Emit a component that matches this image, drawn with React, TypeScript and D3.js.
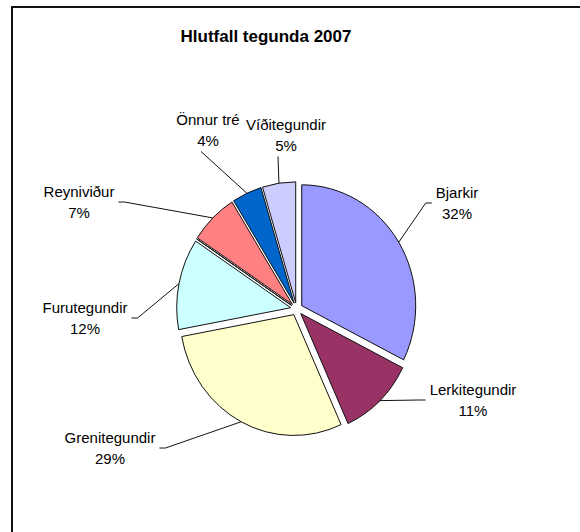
import React from "react";
import * as d3 from "d3";

const width = 580;
const height = 532;

// data
const title = "Hlutfall tegunda 2007";
const categories = [
  "Bjarkir",
  "Lerkitegundir",
  "Grenitegundir",
  "Furutegundir",
  "",
  "Reyniviður",
  "Önnur tré",
  "Víðitegundir",
];
const values = [32.4, 10.8, 28.9, 12.2, 0, 6.8, 4.2, 4.7];
const colors = ["#9999FF", "#993366", "#FFFFCC", "#CCFFFF", "#660066", "#FF8080", "#0066CC", "#CCCCFF"];

// label layout: centre x, first baseline y, which side the leader attaches to
const labelAt = [
  { x: 457, y: 198, side: "left" },
  { x: 473, y: 395, side: "left" },
  { x: 110, y: 443, side: "right" },
  { x: 85, y: 313, side: "right" },
  null,
  { x: 79, y: 197, side: "right" },
  { x: 208, y: 125, side: "bottom", dx: -7 },
  { x: 286, y: 130, side: "bottom", dx: -8 },
];

const cx = 296.6;
const cy = 309;
const r = 114;
const ky = 1.06; // pie is a bit taller than wide
const explode = 6;
const fontSize = 15;
const lineH = 20.5;
const font = "'Liberation Sans', Arial, sans-serif";

const measure = (() => {
  const ctx = document.createElement("canvas").getContext("2d");
  return (s) => {
    if (!ctx) return s.length * fontSize * 0.55;
    ctx.font = `${fontSize}px ${font}`;
    return ctx.measureText(s).width;
  };
})();

export default function App() {
  const total = d3.sum(values);
  const pie = d3.pie<number>().sort(null).value((d) => d);
  const arcs = pie(values);
  const arc = d3.arc<d3.PieArcDatum<number>>().innerRadius(0).outerRadius(r);
  const pct = (v) => Math.round((v / total) * 100) + "%";

  return (
    <svg width={width} height={height} style={{ position: "absolute", left: 0, top: 0, display: "block" }}>
      <rect x={0} y={0} width={width} height={height} fill="#fff" />
      {/* chart frame, only its left and top edges fall inside the picture */}
      <path d={`M12,${height}V7H${width}`} fill="none" stroke="#111" strokeWidth={2} />
      <text x={266} y={41.5} textAnchor="middle" fontFamily={font} fontWeight="bold" fontSize={17}>
        {title}
      </text>

      <g transform={`translate(${cx},${cy}) scale(1,${ky})`}>
        {arcs.map((a, i) => {
          const mid = (a.startAngle + a.endAngle) / 2;
          const ox = explode * Math.sin(mid);
          const oy = -explode * Math.cos(mid);
          return (
            <path
              key={i}
              d={arc(a) || ""}
              transform={`translate(${ox},${oy})`}
              fill={colors[i]}
              stroke="#111"
              strokeWidth={1}
              vectorEffect="non-scaling-stroke"
              strokeLinejoin="round"
            />
          );
        })}
      </g>

      {arcs.map((a, i) => {
        const lab = labelAt[i];
        if (!lab || values[i] === 0) return null;
        const mid = (a.startAngle + a.endAngle) / 2;
        const px = cx + (r + explode) * Math.sin(mid);
        const py = cy - (r + explode) * Math.cos(mid) * ky;
        const w = Math.max(measure(categories[i]), measure(pct(values[i])));
        let pts;
        if (lab.side === "left") {
          const sx = lab.x - w / 2 - 4;
          const sy = lab.y + 5;
          pts = [[sx, sy], [sx - 6, sy], [px, py]];
        } else if (lab.side === "right") {
          const sx = lab.x + w / 2 + 4;
          const sy = lab.y + 5;
          pts = [[sx, sy], [sx + 6, sy], [px, py]];
        } else {
          const sx = lab.x + (lab.dx || 0);
          const sy = lab.y + lineH + 6;
          pts = [[sx, sy], [px, py]];
        }
        return (
          <g key={i}>
            <path d={d3.line()(pts) || ""} fill="none" stroke="#111" strokeWidth={1} />
            <text x={lab.x} y={lab.y} textAnchor="middle" fontFamily={font} fontSize={fontSize}>
              {categories[i]}
            </text>
            <text x={lab.x} y={lab.y + lineH} textAnchor="middle" fontFamily={font} fontSize={fontSize}>
              {pct(values[i])}
            </text>
          </g>
        );
      })}
    </svg>
  );
}
